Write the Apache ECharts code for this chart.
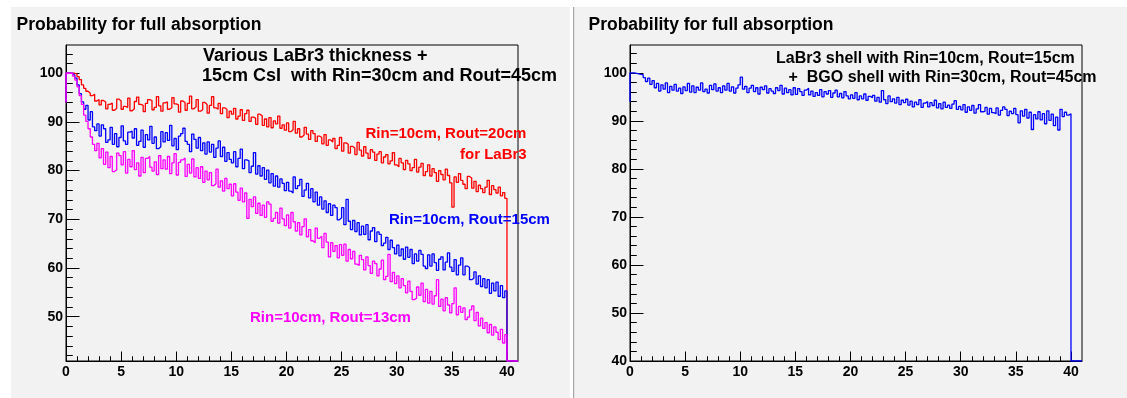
<!DOCTYPE html>
<html><head><meta charset="utf-8">
<script src="https://cdn.jsdelivr.net/npm/echarts@6/dist/echarts.min.js"></script>
<style>html,body{margin:0;padding:0;background:#fff}#c{width:1127px;height:398px}</style>
</head><body><div id="c"></div>
<script>
// ---- data: bin contents, bins of width 0.2 from 0 to 40 (one line = one unit of x) ----
const binWidth = 0.2;
const startValue = 94;
const leftRed = [
100,100,100,100,99.8,
99.3,98.7,97.6,96.9,96.3,
95.9,95.4,95.7,94.3,94.6,
93.5,94.4,94.1,92.7,93.6,
93.9,92.4,92.8,94.7,94.3,
92.6,93.2,93.0,94.9,92.3,
92.7,94.2,95.1,93.6,93.4,
92.1,93.8,94.6,94.4,92.5,
93.0,95.2,93.3,92.2,93.9,
94.1,92.6,92.9,95.0,93.7,
93.5,92.0,94.3,94.0,92.4,
93.8,95.3,92.7,93.1,94.6,
92.2,92.5,94.0,93.6,91.8,
93.4,95.2,92.9,92.6,93.8,
91.7,92.9,92.6,90.9,92.2,
91.6,92.8,90.6,91.2,92.5,
90.3,91.7,92.4,90.1,91.0,
90.8,89.5,91.6,91.2,89.3,
90.6,89.0,90.9,88.8,90.2,
89.6,91.2,88.7,89.4,88.3,
89.8,88.0,88.4,90.1,87.7,
88.6,86.9,87.3,88.9,87.5,
86.4,88.2,87.6,86.0,87.1,
86.8,85.5,87.4,85.2,86.3,
85.9,86.6,84.5,85.2,86.8,
84.0,85.7,85.4,83.6,85.0,
84.6,83.3,85.8,84.2,83.0,
84.9,83.6,82.5,84.3,83.8,
82.1,83.4,83.9,81.6,82.8,
83.3,81.4,82.0,83.7,81.2,
80.8,82.5,81.6,80.2,82.1,
81.4,80.0,80.6,82.3,79.7,
80.7,81.5,79.0,79.8,81.2,
78.9,80.4,79.6,77.8,80.0,
79.2,78.1,80.3,79.0,77.5,
72.5,78.7,77.6,79.4,78.0,
77.2,76.3,78.8,78.5,76.4,
77.8,75.7,77.0,76.3,75.5,
76.6,78.0,75.1,76.9,76.1,
75.4,76.6,74.8,75.5,74.3
];
const leftBlue = [
100,100,100,99.6,99.0,
97.6,95.8,94.1,92.6,93.4,
90.4,92.1,89.0,88.2,89.6,
87.1,89.4,88.6,85.8,86.3,
88.9,85.4,87.6,84.9,86.8,
89.2,86.1,85.4,87.9,88.1,
86.7,88.6,85.2,86.0,88.3,
84.8,87.4,86.3,89.1,85.6,
86.9,84.5,84.9,88.0,85.9,
87.8,86.2,89.3,85.1,86.6,
84.3,87.1,87.6,88.7,86.0,
85.4,83.9,87.5,86.4,84.6,
86.8,84.1,85.7,83.4,85.9,
83.8,85.4,82.7,84.6,86.1,
82.9,84.8,81.9,83.7,82.3,
81.6,83.9,80.8,82.5,84.4,
80.4,82.2,82.0,79.6,80.9,
83.7,79.3,81.0,78.9,80.6,
78.2,80.1,77.5,79.4,76.8,
78.9,76.6,78.3,77.4,75.9,
77.6,75.8,75.4,78.7,76.3,
76.9,78.2,74.7,76.0,77.4,
74.4,76.3,73.6,75.6,72.9,
74.6,72.1,73.8,71.4,73.2,
70.8,72.9,72.4,69.9,70.3,
72.4,68.9,74.1,69.6,67.9,
69.8,67.5,69.3,66.8,68.6,
66.9,68.9,65.8,67.6,68.3,
65.4,67.4,66.9,64.6,65.1,
66.3,63.8,65.7,64.2,62.9,
64.7,62.5,63.9,61.8,64.3,
62.2,63.8,60.9,62.9,61.4,
63.6,62.8,60.4,59.9,62.7,
60.4,62.9,61.1,59.5,61.8,
62.3,59.6,61.2,63.1,60.2,
59.3,61.7,58.6,60.6,62.1,
58.6,60.4,60.1,57.6,57.9,
59.2,56.7,58.4,56.2,57.8,
55.9,57.6,54.8,56.9,55.3,
57.1,54.2,56.4,53.9,55.3
];
const leftMagenta = [
100,100,100,99.4,98.6,
97.2,95.4,93.6,91.4,90.1,
88.6,86.9,85.4,84.1,85.6,
82.6,84.5,81.3,83.8,80.6,
82.9,79.8,80.2,83.6,83.1,
81.2,83.9,79.5,82.3,80.8,
84.1,80.2,81.6,78.9,82.7,
79.6,82.5,82.9,80.7,79.9,
81.8,79.2,83.1,80.4,82.2,
80.3,82.9,79.4,81.6,83.5,
79.1,81.7,82.2,82.6,78.8,
81.3,79.5,82.4,78.7,80.6,
78.4,80.8,77.6,79.9,78.1,
79.6,76.9,77.3,80.3,76.6,
77.9,75.8,78.4,76.3,77.2,
74.8,77.3,75.6,73.9,76.4,
73.6,75.4,70.2,74.1,72.6,
74.6,71.2,73.3,70.8,72.9,
70.4,73.6,73.1,69.6,70.2,
71.4,69.2,72.3,70.1,68.7,
70.9,68.2,71.4,69.5,67.6,
69.3,66.8,68.5,70.1,66.4,
67.9,65.6,65.2,68.2,66.1,
66.5,64.2,67.1,65.3,62.3,
65.2,63.4,64.6,62.1,64.8,
62.6,64.9,61.4,63.8,61.9,
63.4,60.8,60.5,62.6,61.7,
59.6,62.3,60.5,58.9,61.4,
60.9,58.4,59.8,61.6,57.6,
58.3,62.8,57.2,59.1,56.8,
58.4,55.9,57.8,56.4,54.9,
57.3,55.2,53.5,53.8,56.1,
54.4,56.9,53.1,55.6,52.8,
55.2,52.6,54.3,57.6,52.1,
53.6,51.2,53.9,52.4,50.8,
52.7,55.9,50.4,52.1,50.9,
51.8,49.4,49.9,51.4,52.2,
49.2,50.9,48.1,49.7,47.6,
48.8,46.7,48.4,46.2,47.9,
46.8,45.3,47.4,44.6,46.3
];
const rightBlue = [
100,100,99.9,99.8,99.7,
99.6,99.0,98.2,98.9,97.6,
98.4,96.9,97.8,96.2,97.5,
96.6,97.9,95.9,97.2,96.4,
97.6,96.2,96.8,95.7,97.1,
96.3,97.8,96.0,97.3,95.9,
97.0,96.4,97.9,96.1,96.6,
95.8,97.4,96.5,97.7,96.2,
96.9,95.9,97.3,96.4,97.8,
96.2,97.1,95.8,96.8,97.5,
99.1,96.6,97.2,95.9,96.8,
97.4,96.1,96.9,95.6,97.0,
96.5,97.3,95.8,96.7,96.2,
95.7,96.9,96.3,97.4,95.6,
96.8,95.9,96.5,95.4,96.9,
95.5,96.7,96.1,95.3,96.4,
96.8,95.4,96.2,95.1,95.9,
95.3,96.5,95.0,96.1,95.6,
96.3,94.9,95.8,96.4,95.0,
95.7,94.8,96.1,95.2,94.6,
95.4,94.7,95.9,94.4,95.2,
94.6,95.6,94.3,95.1,94.8,
95.3,94.1,94.9,93.9,96.3,
94.4,93.6,95.2,94.0,94.6,
93.7,94.9,93.4,94.3,93.8,
94.5,93.3,94.1,92.9,93.9,
93.4,94.4,92.8,93.7,94.0,
92.9,93.8,93.2,94.3,92.7,
93.6,92.5,93.9,92.8,93.3,
92.6,93.5,94.2,92.4,93.0,
92.3,93.4,91.8,92.9,92.2,
93.2,91.6,92.5,93.4,91.9,
92.0,92.8,91.4,92.6,91.7,
91.5,92.7,91.2,92.2,92.9,
92.4,91.1,92.0,91.5,92.6,
91.3,89.6,92.1,91.0,92.4,
90.6,91.8,88.2,91.3,90.4,
91.9,90.2,91.5,89.4,92.1,
90.1,91.4,89.0,90.8,88.1,
92.4,90.9,91.8,91.2,91.5
];
// ---- tick labels ----
const xMajorTicks = [0,5,10,15,20,25,30,35,40];
const xMinorTicks = [1,2,3,4,6,7,8,9,11,12,13,14,16,17,18,19,21,22,23,24,26,27,28,29,31,32,33,34,36,37,38,39];
const yMajorLeft = [50,60,70,80,90,100];
const yMajorRight = [40,50,60,70,80,90,100];
const yMinorTicks = [42,44,46,48,52,54,56,58,62,64,66,68,72,74,76,78,82,84,86,88,92,94,96,98,102,104];

const xMax = 41, yMinLeft = 40.9, yMinRight = 40, yMax = 105.8;
const FONT = "'Liberation Sans', Arial, Helvetica, sans-serif";

function hist(vals, ymin) {
  const d = [[0, startValue]];
  vals.forEach((v, i) => d.push([i * binWidth, v]));
  d.push([vals.length * binWidth, ymin]);
  d.push([xMax, ymin]);
  return d;
}

const grids = [
  {left: 66, top: 45, width: 452, height: 316, show: true, borderColor: '#000', borderWidth: 1, backgroundColor: 'transparent'},
  {left: 630, top: 45, width: 452, height: 316, show: true, borderColor: '#000', borderWidth: 1, backgroundColor: 'transparent'}
];
function xAxes(g) {
  return [
    {gridIndex: g, type: 'value', min: 0, max: xMax, position: 'bottom',
     axisLine: {show: true, onZero: false, lineStyle: {color: '#000', width: 1}},
     axisTick: {show: true, inside: true, length: 9.5, customValues: xMajorTicks, lineStyle: {color: '#000', width: 1}},
     axisLabel: {show: true, customValues: xMajorTicks, margin: 4, color: '#000', fontSize: 14, fontWeight: 'bold', fontFamily: FONT},
     splitLine: {show: false}},
    {gridIndex: g, type: 'value', min: 0, max: xMax, position: 'bottom',
     axisLine: {show: false, onZero: false},
     axisTick: {show: true, inside: true, length: 4.75, customValues: xMinorTicks, lineStyle: {color: '#000', width: 1}},
     axisLabel: {show: false}, splitLine: {show: false}}
  ];
}
function yAxes(g, ymin, majors) {
  return [
    {gridIndex: g, type: 'value', min: ymin, max: yMax, position: 'left',
     axisLine: {show: true, onZero: false, lineStyle: {color: '#000', width: 1}},
     axisTick: {show: true, inside: true, length: 13.5, customValues: majors, lineStyle: {color: '#000', width: 1}},
     axisLabel: {show: true, customValues: majors, margin: 3, color: '#000', fontSize: 14, fontWeight: 'bold', fontFamily: FONT},
     splitLine: {show: false}},
    {gridIndex: g, type: 'value', min: ymin, max: yMax, position: 'left',
     axisLine: {show: false, onZero: false},
     axisTick: {show: true, inside: true, length: 6.8, customValues: yMinorTicks, lineStyle: {color: '#000', width: 1}},
     axisLabel: {show: false}, splitLine: {show: false}}
  ];
}
function line(data, color, xi, yi) {
  return {type: 'line', step: 'end', data: data, xAxisIndex: xi, yAxisIndex: yi,
    showSymbol: false, symbol: 'none', silent: true, animation: false, clip: true,
    lineStyle: {color: color, width: 1.3}};
}
function txt(text, x, y, size, color) {
  return {type: 'text', x: x, y: y, z: 100, silent: true,
    style: {text: text, fill: color, font: 'bold ' + size + 'px ' + FONT, align: 'left', verticalAlign: 'middle'}};
}

const chart = echarts.init(document.getElementById('c'), null, {renderer: 'canvas'});
chart.setOption({
  animation: false,
  backgroundColor: '#ffffff',
  grid: grids,
  xAxis: xAxes(0).concat(xAxes(1)),
  yAxis: yAxes(0, yMinLeft, yMajorLeft).concat(yAxes(1, yMinRight, yMajorRight)),
  series: [
    line(hist(leftRed, yMinLeft), '#ff0000', 0, 0),
    line(hist(leftBlue, yMinLeft), '#0000ff', 0, 0),
    line(hist(leftMagenta, yMinLeft), '#ff00ff', 0, 0),
    line(hist(rightBlue, yMinRight), '#0000ff', 2, 2)
  ],
  graphic: [
    {type: 'rect', z: -100, silent: true, shape: {x: 11, y: 7, width: 559, height: 391}, style: {fill: '#f2f2f2'}},
    {type: 'rect', z: -100, silent: true, shape: {x: 573, y: 7, width: 1.5, height: 391}, style: {fill: '#a8a8a8'}},
    {type: 'rect', z: -100, silent: true, shape: {x: 574.5, y: 7, width: 553, height: 391}, style: {fill: '#f2f2f2'}},
    txt('Probability for full absorption', 16.5, 25.5, 17.5, '#000'),
    txt('Probability for full absorption', 588.5, 25.5, 17.5, '#000'),
    txt('Various LaBr3 thickness +', 203, 56.5, 18, '#000'),
    txt('15cm CsI  with Rin=30cm and Rout=45cm', 202, 76.5, 18, '#000'),
    txt('Rin=10cm, Rout=20cm', 365.5, 134, 15, '#ff0000'),
    txt('for LaBr3', 460, 154.5, 15, '#ff0000'),
    txt('Rin=10cm, Rout=15cm', 389, 220, 15, '#0000ff'),
    txt('Rin=10cm, Rout=13cm', 250, 318, 15, '#ff00ff'),
    txt('LaBr3 shell with Rin=10cm, Rout=15cm', 776, 59, 16, '#000'),
    txt('+  BGO shell with Rin=30cm, Rout=45cm', 788.5, 77.5, 16, '#000')
  ]
});
</script>
</body></html>
